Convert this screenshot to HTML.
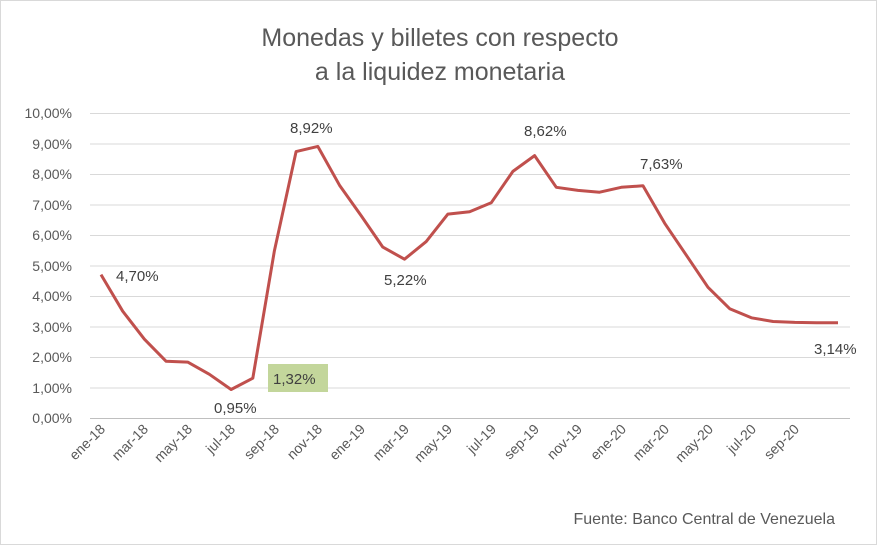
<!DOCTYPE html>
<html><head><meta charset="utf-8"><style>
body{margin:0;background:#fff;}
svg{display:block;font-family:"Liberation Sans",sans-serif;}
</style></head><body>
<svg width="877" height="545" xmlns="http://www.w3.org/2000/svg">
<rect x="0.5" y="0.5" width="876" height="544" fill="#fff" stroke="#d9d9d9"/>
<text x="440" y="46" font-size="25" fill="#595959" text-anchor="middle">Monedas y billetes con respecto</text>
<text x="440" y="80" font-size="25" fill="#595959" text-anchor="middle">a la liquidez monetaria</text>
<g stroke="#d9d9d9" stroke-width="1">
<line x1="90" x2="850" y1="113.5" y2="113.5"/><line x1="90" x2="850" y1="144" y2="144"/>
<line x1="90" x2="850" y1="174.5" y2="174.5"/><line x1="90" x2="850" y1="205" y2="205"/>
<line x1="90" x2="850" y1="235.5" y2="235.5"/><line x1="90" x2="850" y1="266" y2="266"/>
<line x1="90" x2="850" y1="296.5" y2="296.5"/><line x1="90" x2="850" y1="327" y2="327"/>
<line x1="90" x2="850" y1="357.5" y2="357.5"/><line x1="90" x2="850" y1="388" y2="388"/>
</g>
<line x1="90" x2="850" y1="418.5" y2="418.5" stroke="#bfbfbf"/>
<g font-size="14" fill="#595959" text-anchor="end">
<text x="72" y="118">10,00%</text><text x="72" y="149">9,00%</text><text x="72" y="179">8,00%</text>
<text x="72" y="210">7,00%</text><text x="72" y="240">6,00%</text><text x="72" y="271">5,00%</text>
<text x="72" y="301">4,00%</text><text x="72" y="332">3,00%</text><text x="72" y="362">2,00%</text>
<text x="72" y="393">1,00%</text><text x="72" y="423">0,00%</text>
</g>
<g font-size="14" fill="#595959" text-anchor="end">
<text transform="translate(106,430) rotate(-45)">ene-18</text>
<text transform="translate(149,430) rotate(-45)">mar-18</text>
<text transform="translate(193,430) rotate(-45)">may-18</text>
<text transform="translate(236,430) rotate(-45)">jul-18</text>
<text transform="translate(280,430) rotate(-45)">sep-18</text>
<text transform="translate(323,430) rotate(-45)">nov-18</text>
<text transform="translate(366,430) rotate(-45)">ene-19</text>
<text transform="translate(410,430) rotate(-45)">mar-19</text>
<text transform="translate(453,430) rotate(-45)">may-19</text>
<text transform="translate(497,430) rotate(-45)">jul-19</text>
<text transform="translate(540,430) rotate(-45)">sep-19</text>
<text transform="translate(583,430) rotate(-45)">nov-19</text>
<text transform="translate(627,430) rotate(-45)">ene-20</text>
<text transform="translate(670,430) rotate(-45)">mar-20</text>
<text transform="translate(714,430) rotate(-45)">may-20</text>
<text transform="translate(757,430) rotate(-45)">jul-20</text>
<text transform="translate(800,430) rotate(-45)">sep-20</text>
</g>
<polyline fill="none" stroke="#c0504d" stroke-width="3" stroke-linejoin="round" points="
101,274.6 122.7,311.2 144.4,339.2 166,361.2 187.7,362.1 209.4,374.3 231.1,389.5 252.8,378.2 274.4,250.8 296.1,151.6 317.8,146.4 339.5,185.2 361.2,215.7 382.8,247.1 404.5,259.2 426.2,241.6 447.9,214.1 469.6,211.7 491.2,202.8 512.9,171.4 534.6,155.6 556.3,187.3 578,190.4 599.6,192.2 621.3,187.3 643,185.8 664.7,223.3 686.4,255.3 708,287.3 729.7,308.7 751.4,317.8 773.1,321.5 794.8,322.4 816.4,322.7 838,322.7"/>
<g font-size="15" fill="#404040">
<text x="116" y="281">4,70%</text>
<text x="214" y="413">0,95%</text>
<rect x="268" y="364" width="60" height="28" fill="#c3d69b"/>
<text x="273" y="384">1,32%</text>
<text x="290" y="133">8,92%</text>
<text x="384" y="285">5,22%</text>
<text x="524" y="136">8,62%</text>
<text x="640" y="169">7,63%</text>
<text x="814" y="354">3,14%</text>
</g>
<text x="835" y="524" font-size="16" fill="#595959" text-anchor="end">Fuente: Banco Central de Venezuela</text>
</svg>
</body></html>
